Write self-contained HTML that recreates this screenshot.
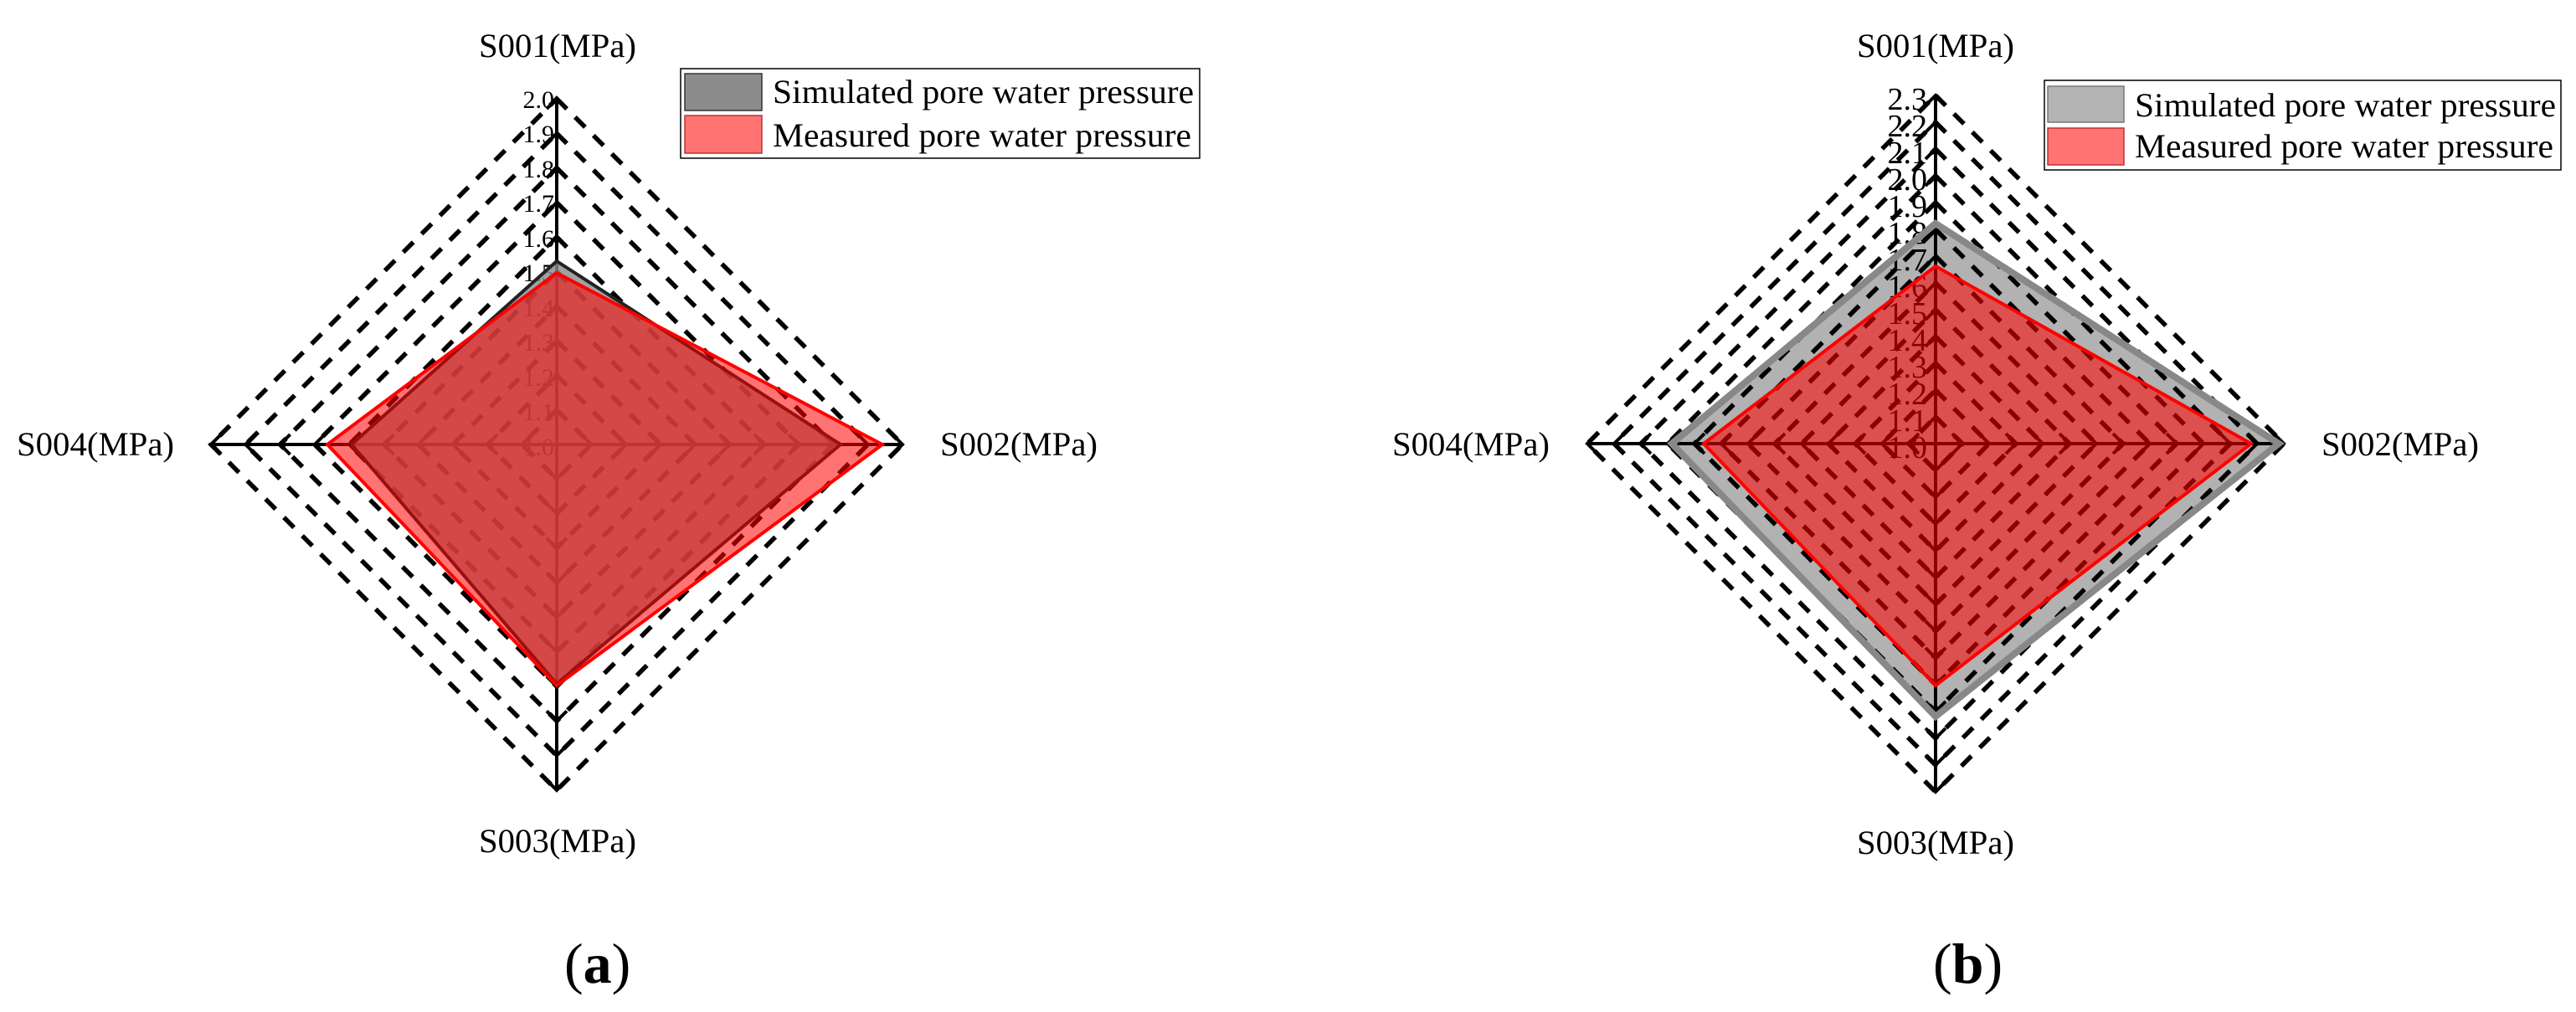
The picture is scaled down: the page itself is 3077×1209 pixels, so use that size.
<!DOCTYPE html>
<html><head><meta charset="utf-8"><style>
html,body{margin:0;padding:0;background:#fff}
svg{display:block}
text{font-family:"Liberation Serif",serif}
</style></head><body>
<svg id="s" width="3077" height="1209" viewBox="0 0 3077 1209" xmlns="http://www.w3.org/2000/svg">
<g id="gridA"></g><g id="gridB"></g>
<g font-size="30" text-anchor="end" fill="#000">
<text x="662" y="129">2.0</text>
<text x="662" y="170">1.9</text>
<text x="662" y="212">1.8</text>
<text x="662" y="253">1.7</text>
<text x="662" y="295">1.6</text>
<text x="662" y="336">1.5</text>
<text x="662" y="378">1.4</text>
<text x="662" y="419">1.3</text>
<text x="662" y="461">1.2</text>
<text x="662" y="502">1.1</text>
<text x="662" y="544">1.0</text>
</g>
<g font-size="38" text-anchor="end" fill="#000">
<text x="2302" y="131">2.3</text>
<text x="2302" y="163">2.2</text>
<text x="2302" y="195">2.1</text>
<text x="2302" y="227">2.0</text>
<text x="2302" y="259">1.9</text>
<text x="2302" y="291">1.8</text>
<text x="2302" y="323">1.7</text>
<text x="2302" y="355">1.6</text>
<text x="2302" y="387">1.5</text>
<text x="2302" y="419">1.4</text>
<text x="2302" y="451">1.3</text>
<text x="2302" y="483">1.2</text>
<text x="2302" y="515">1.1</text>
<text x="2302" y="547">1.0</text>
</g>
<polygon points="665,312 1004,531 665,817 420,531" fill="#8c8c8c" fill-opacity="0.82" stroke="#222" stroke-width="4"/>
<polygon points="665,326 1054,531 665,819 391,531" fill="#f00" fill-opacity="0.55" stroke="#f00" stroke-width="4"/>
<polygon points="2312,267 2722,530 2312,856 1997,530" fill="#000" fill-opacity="0.3" stroke="#888" stroke-width="8"/>
<polygon points="2312,318 2689,530 2312,819 2035,530" fill="#f00" fill-opacity="0.55" stroke="#f00" stroke-width="4"/>
<rect x="813" y="82" width="620" height="107" fill="#fff" stroke="#000" stroke-width="1.5"/>
<rect x="818" y="88" width="92" height="44" fill="#8c8c8c" stroke="#333" stroke-width="1.5"/>
<rect x="818" y="138" width="92" height="45" fill="#ff7373" stroke="#b33" stroke-width="1.5"/>
<g font-size="40">
<text x="923" y="123" textLength="503" lengthAdjust="spacingAndGlyphs">Simulated pore water pressure</text>
<text x="923" y="175" textLength="500" lengthAdjust="spacingAndGlyphs">Measured pore water pressure</text>
</g>
<rect x="2442" y="96" width="617" height="107" fill="#fff" stroke="#000" stroke-width="1.5"/>
<rect x="2446" y="103" width="91" height="43" fill="#b4b4b4" stroke="#777" stroke-width="1.5"/>
<rect x="2446" y="153" width="91" height="44" fill="#ff7373" stroke="#b33" stroke-width="1.5"/>
<g font-size="40">
<text x="2550" y="139" textLength="503" lengthAdjust="spacingAndGlyphs">Simulated pore water pressure</text>
<text x="2550" y="188" textLength="500" lengthAdjust="spacingAndGlyphs">Measured pore water pressure</text>
</g>
<g font-size="40">
<text x="572" y="68" textLength="188" lengthAdjust="spacingAndGlyphs">S001(MPa)</text>
<text x="20" y="544" textLength="188" lengthAdjust="spacingAndGlyphs">S004(MPa)</text>
<text x="1123" y="544" textLength="188" lengthAdjust="spacingAndGlyphs">S002(MPa)</text>
<text x="572" y="1018" textLength="188" lengthAdjust="spacingAndGlyphs">S003(MPa)</text>
<text x="2218" y="68" textLength="188" lengthAdjust="spacingAndGlyphs">S001(MPa)</text>
<text x="1663" y="544" textLength="188" lengthAdjust="spacingAndGlyphs">S004(MPa)</text>
<text x="2773" y="544" textLength="188" lengthAdjust="spacingAndGlyphs">S002(MPa)</text>
<text x="2218" y="1020" textLength="188" lengthAdjust="spacingAndGlyphs">S003(MPa)</text>
</g>
<g font-size="68">
<text x="674" y="1174">(<tspan font-weight="bold">a</tspan>)</text>
<text x="2309" y="1174">(<tspan font-weight="bold">b</tspan>)</text>
</g>
</svg>
<script>
(function(){
var NS="http://www.w3.org/2000/svg";
function el(p,n,a){var e=document.createElementNS(NS,n);for(var k in a)e.setAttribute(k,a[k]);p.appendChild(e);return e;}
function build(id,cx,cy,R,n){
 var g=document.getElementById(id);
 var st=R/n;
 for(var i=1;i<=n;i++){
  var r=i*st;
  el(g,"polygon",{points:(cx)+","+(cy-r)+" "+(cx+r)+","+cy+" "+cx+","+(cy+r)+" "+(cx-r)+","+cy,
   fill:"none",stroke:"#000","stroke-width":5.5,"stroke-dasharray":"17 14"});
 }
 el(g,"line",{x1:cx,y1:cy-R,x2:cx,y2:cy+R,stroke:"#000","stroke-width":4});
 el(g,"line",{x1:cx-R,y1:cy,x2:cx+R,y2:cy,stroke:"#000","stroke-width":4});
 var a=12,d="";
 for(var i=1;i<=n;i++){
  var r=i*st;
  d+="M"+(cx-a)+","+(cy-r+a)+"L"+cx+","+(cy-r)+"L"+(cx+a)+","+(cy-r+a);
  d+="M"+(cx-a)+","+(cy+r-a)+"L"+cx+","+(cy+r)+"L"+(cx+a)+","+(cy+r-a);
  d+="M"+(cx+r-a)+","+(cy-a)+"L"+(cx+r)+","+cy+"L"+(cx+r-a)+","+(cy+a);
  d+="M"+(cx-r+a)+","+(cy-a)+"L"+(cx-r)+","+cy+"L"+(cx-r+a)+","+(cy+a);
 }
 el(g,"path",{d:d,fill:"none",stroke:"#000","stroke-width":4});
}
build("gridA",665,531,413,10);
build("gridB",2312,530,416,13);
})();
</script>
</body></html>
